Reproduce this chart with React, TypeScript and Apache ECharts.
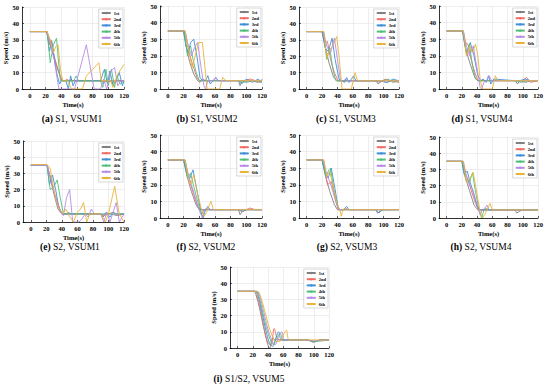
import React, { useEffect, useRef } from "react";
import * as echarts from "echarts";

const runNames = ["1st", "2nd", "3rd", "4th", "5th", "6th"];
const runColors = ["#808080", "#f26c64", "#3f8fd8", "#4fbf7a", "#b88be6", "#e8b43a"];
const xTicks = [0, 20, 40, 60, 80, 100, 120];

// (a) S1, VSUM1
const a1 = [[0,35],[22,35],[28,24],[34,14],[40,6],[42,5],[90,5],[94,4],[100,5],[106,4],[112,5],[120,5]];
const a2 = [[0,35],[21,35],[25,27],[27,30],[31,20],[37,10],[41,5],[45,5],[47,6],[50,5],[52,6],[55,5],[120,5]];
const a3 = [[0,35],[22,35],[25,23],[28,29],[32,16],[35,8],[38,3],[40,5],[46,5],[49,0],[52,8],[55,2],[58,5],[90,5],[95,12],[99,3],[102,11],[106,2],[110,5],[114,10],[118,2],[120,5]];
const a4 = [[0,35],[22,35],[26,16],[30,27],[34,31],[37,14],[39,5],[56,5],[59,8],[62,5],[90,5],[93,1],[97,12],[100,2],[104,12],[108,1],[111,8],[115,3],[120,5]];
const a5 = [[0,35],[22,35],[27,26],[31,18],[35,6],[37,0],[57,0],[72,27],[82,0],[90,0],[94,6],[98,0],[103,11],[108,13],[112,2],[116,5],[120,5]];
const a6 = [[0,35],[22,35],[26,30],[30,22],[33,26],[36,27],[39,12],[42,5],[48,5],[53,0],[67,0],[72,8],[88,16],[91,5],[103,5],[106,1],[112,9],[120,15]];

// (b) S1, VSUM2
const b1 = [[0,35],[20,35],[24,24],[28,16],[33,9],[38,5],[41,4],[44,6],[48,5],[90,5],[92,2],[95,5],[100,4],[108,5],[114,4],[120,5]];
const b2 = [[0,35],[21,35],[24,30],[27,22],[32,14],[37,7],[40,5],[90,5],[98,5],[105,6],[112,5],[118,4],[120,6]];
const b3 = [[0,35],[20,35],[23,26],[26,22],[29,28],[33,30],[37,20],[41,7],[44,5],[48,5],[51,8],[54,3],[58,5],[61,7],[64,5],[90,5],[94,3],[100,6],[108,4],[115,6],[120,4]];
const b4 = [[0,35],[21,35],[25,20],[29,26],[32,18],[36,10],[40,5],[90,5],[96,4],[104,5],[112,5],[120,4]];
const b5 = [[0,35],[22,35],[26,26],[30,20],[34,25],[38,28],[42,14],[46,2],[48,0],[51,5],[58,5],[61,7],[64,5],[120,5]];
const b6 = [[0,35],[22,35],[27,22],[31,13],[35,20],[39,28],[44,28],[48,10],[50,0],[55,0],[66,0],[70,7],[74,5],[120,5]];

// (c) S1, VSUM3
const c1 = [[0,35],[20,35],[24,26],[29,16],[35,7],[40,5],[90,5],[93,3],[97,5],[104,4],[110,5],[120,5]];
const c2 = [[0,35],[21,35],[24,28],[27,29],[31,18],[36,10],[41,5],[90,5],[95,4],[102,6],[110,5],[120,4]];
const c3 = [[0,35],[20,35],[24,25],[28,23],[33,31],[37,18],[42,6],[46,5],[49,4],[52,7],[55,4],[58,6],[61,8],[64,5],[90,5],[96,5],[104,4],[112,6],[120,5]];
const c4 = [[0,35],[22,35],[26,18],[30,25],[34,12],[38,5],[90,5],[100,5],[106,6],[112,4],[120,5]];
const c5 = [[0,35],[22,35],[26,26],[31,22],[36,31],[40,18],[44,5],[48,5],[50,6],[54,5],[120,5]];
const c6 = [[0,35],[22,35],[26,19],[30,24],[34,26],[39,32],[42,20],[46,0],[58,0],[63,10],[66,5],[120,5]];

// (d) S1, VSUM4
const d1 = [[0,35],[21,35],[25,24],[31,15],[37,7],[41,5],[90,5],[93,3],[96,5],[104,4],[110,5],[120,5]];
const d2 = [[0,35],[21,35],[24,28],[28,27],[32,18],[37,10],[41,5],[90,5],[100,5],[105,7],[110,4],[120,5]];
const d3 = [[0,35],[21,35],[24,26],[27,22],[31,28],[36,20],[41,8],[45,5],[48,6],[52,4],[55,8],[58,3],[62,6],[90,5],[96,5],[103,6],[110,5],[120,5]];
const d4 = [[0,35],[22,35],[26,21],[30,27],[34,14],[38,6],[41,5],[90,5],[98,4],[106,5],[120,5]];
const d5 = [[0,35],[22,35],[26,26],[30,20],[35,26],[40,12],[44,1],[46,0],[49,4],[53,5],[56,8],[59,5],[120,5]];
const d6 = [[0,35],[22,35],[26,20],[30,26],[34,22],[38,27],[41,20],[44,6],[47,0],[60,0],[64,8],[67,5],[120,5]];

// (e) S2, VSUM1
const e1 = [[0,35],[21,35],[25,27],[30,17],[35,8],[40,5],[90,5],[93,3],[96,5],[104,5],[110,4],[120,5]];
const e2 = [[0,35],[21,35],[24,30],[27,24],[31,17],[36,10],[40,5],[90,5],[95,4],[100,5],[106,6],[112,4],[120,5]];
const e3 = [[0,35],[21,35],[24,23],[28,29],[32,20],[36,9],[40,5],[90,5],[93,4],[97,6],[102,3],[106,6],[110,5],[120,5]];
const e4 = [[0,35],[21,35],[25,20],[30,22],[34,26],[38,15],[42,5],[46,5],[48,6],[52,5],[90,5],[96,5],[120,5]];
const e5 = [[0,35],[21,35],[26,26],[30,18],[34,13],[38,6],[42,4],[46,15],[50,20],[54,0],[62,0],[66,2],[70,5],[74,3],[78,8],[82,5],[90,5],[94,0],[98,6],[102,0],[110,12],[114,0],[120,5]];
const e6 = [[0,35.5],[21,35.5],[25,33],[29,22],[33,12],[37,8],[41,5],[45,8],[49,4],[55,0],[60,6],[64,8],[68,12],[72,0],[76,5],[90,5],[96,0],[100,5],[108,22],[114,5],[120,0]];

// (f) S2, VSUM2
const f1 = [[0,35],[20,35],[24,26],[30,16],[36,8],[40,5],[90,5],[92,2],[95,4],[100,5],[110,5],[120,5]];
const f2 = [[0,35],[21,35],[24,30],[28,22],[33,14],[38,7],[42,5],[90,5],[96,4],[104,6],[112,5],[120,5]];
const f3 = [[0,35],[20,35],[24,27],[28,24],[32,29],[37,17],[42,4],[45,0],[48,5],[51,7],[54,5],[90,5],[94,4],[100,5],[120,5]];
const f4 = [[0,35],[21,35],[25,24],[29,27],[33,19],[38,10],[43,2],[46,5],[90,5],[100,5],[120,5]];
const f5 = [[0,35],[22,35],[26,26],[30,20],[34,14],[39,6],[44,0],[47,5],[50,6],[53,5],[120,5]];
const f6 = [[0,35],[22,35],[26,24],[29,20],[33,26],[38,14],[43,5],[46,1],[50,4],[53,8],[55,10],[58,5],[120,5]];

// (g) S2, VSUM3
const g1 = [[0,35],[20,35],[24,26],[30,16],[36,8],[40,5],[90,5],[92,3],[95,4],[100,5],[120,5]];
const g2 = [[0,35],[21,35],[24,28],[27,20],[32,22],[37,12],[41,5],[90,5],[100,5],[110,5],[120,5]];
const g3 = [[0,35],[20,35],[24,27],[28,24],[32,30],[37,17],[41,6],[44,5],[48,5],[52,7],[55,5],[90,5],[94,3],[98,5],[120,5]];
const g4 = [[0,35],[21,35],[25,25],[29,29],[31,30],[35,18],[40,7],[43,5],[90,5],[100,5],[120,5]];
const g5 = [[0,35],[22,35],[26,26],[30,22],[34,16],[39,8],[42,5],[48,5],[51,6],[54,5],[120,5]];
const g6 = [[0,35],[22,35],[26,25],[30,28],[34,20],[39,9],[43,5],[45,1],[47,5],[50,6],[53,5],[120,5]];

// (h) S2, VSUM4
const h1 = [[0,35],[20,35],[24,26],[30,17],[36,8],[41,5],[90,5],[92,3],[95,4],[100,5],[120,5]];
const h2 = [[0,35],[21,35],[24,28],[28,24],[33,16],[38,9],[42,5],[90,5],[100,5],[110,5],[120,5]];
const h3 = [[0,35],[20,35],[23,27],[27,29],[31,22],[36,14],[41,6],[45,5],[90,5],[96,5],[120,5]];
const h4 = [[0,35],[21,35],[25,24],[30,22],[34,28],[38,16],[43,4],[46,0],[49,5],[52,6],[55,5],[120,5]];
const h5 = [[0,35],[22,35],[26,26],[30,20],[34,18],[39,10],[44,2],[47,5],[50,6],[53,8],[56,5],[120,5]];
const h6 = [[0,35],[22,35],[26,22],[30,24],[35,28],[39,17],[44,4],[47,0],[50,2],[54,6],[57,9],[60,5],[120,5]];

// (i) S1/S2, VSUM5
const i1 = [[0,35],[21,35],[24,33],[29,24],[34,13],[39,3],[42,0],[46,6],[50,5],[90,5],[95,4.5],[100,3.5],[105,4.5],[110,5],[120,5]];
const i2 = [[0,35],[22,35],[25,33],[30,24],[35,12],[40,3],[44,2],[48,12],[52,6],[56,5],[90,5],[100,4],[110,5],[120,5]];
const i3 = [[0,35],[23,35],[27,32],[32,22],[37,11],[42,3],[46,1],[50,6],[54,10],[58,5],[90,5],[100,4],[110,5],[120,5]];
const i4 = [[0,35],[24,35],[28,32],[33,22],[38,12],[43,5],[47,2],[51,6],[56,9],[60,5],[90,5],[100,4],[120,5]];
const i5 = [[0,35],[25,35],[29,32],[34,23],[39,13],[44,6],[49,2],[54,7],[58,10],[62,5],[90,5],[100,4.5],[120,5]];
const i6 = [[0,35],[26,35],[30,32],[35,24],[40,15],[45,8],[50,4],[55,4],[60,8],[64,11],[68,5],[90,5],[120,5]];

const panels = [
  { letter: "a", caption: " S1, VSUM1", runs: [a1, a2, a3, a4, a5, a6], left: 22, top: 7, width: 102, height: 82, cx: 72, cy: 119 },
  { letter: "b", caption: " S1, VSUM2", runs: [b1, b2, b3, b4, b5, b6], left: 160, top: 6, width: 102, height: 83, cx: 207, cy: 119 },
  { letter: "c", caption: " S1, VSUM3", runs: [c1, c2, c3, c4, c5, c6], left: 299, top: 7, width: 100, height: 82, cx: 346, cy: 119 },
  { letter: "d", caption: " S1, VSUM4", runs: [d1, d2, d3, d4, d5, d6], left: 439, top: 6, width: 99, height: 83, cx: 482, cy: 119 },
  { letter: "e", caption: " S2, VSUM1", runs: [e1, e2, e3, e4, e5, e6], left: 23, top: 141, width: 101, height: 81, cx: 70, cy: 247 },
  { letter: "f", caption: " S2, VSUM2", runs: [f1, f2, f3, f4, f5, f6], left: 160, top: 135, width: 102, height: 83, cx: 206, cy: 247 },
  { letter: "g", caption: " S2, VSUM3", runs: [g1, g2, g3, g4, g5, g6], left: 299, top: 135, width: 100, height: 83, cx: 347, cy: 247 },
  { letter: "h", caption: " S2, VSUM4", runs: [h1, h2, h3, h4, h5, h6], left: 439, top: 137, width: 99, height: 81, cx: 481, cy: 247 },
  { letter: "i", caption: " S1/S2, VSUM5", runs: [i1, i2, i3, i4, i5, i6], left: 230, top: 267, width: 99, height: 81, cx: 249, cy: 379 },
];

const FONT = "'Liberation Serif', 'DejaVu Serif', serif";
const W = 550;

export default function App() {
  const ref = useRef<HTMLDivElement>(null);
  useEffect(() => {
    document.body.style.margin = "0";
    if (!ref.current) return;
    const chart = echarts.init(ref.current, null, { renderer: "svg" });
    const grid: any[] = [];
    const xAxis: any[] = [];
    const yAxis: any[] = [];
    const series: any[] = [];
    const legend: any[] = [];
    const graphic: any[] = [];
    panels.forEach((p, pi) => {
      grid.push({ left: p.left, top: p.top, width: p.width, height: p.height, containLabel: false });
      xAxis.push({
        type: "value", gridIndex: pi, min: -10, max: 120,
        name: "Time(s)", nameLocation: "middle", nameGap: 12,
        nameTextStyle: { fontFamily: FONT, fontWeight: "bold", fontSize: 6.5, color: "#000" },
        axisLine: { onZero: false, lineStyle: { color: "#000", width: 0.8 } },
        axisTick: { customValues: xTicks, inside: true, length: 2, lineStyle: { color: "#000", width: 0.6 } },
        axisLabel: { customValues: xTicks, fontFamily: FONT, fontWeight: "bold", fontSize: 6.5, color: "#000", margin: 3 },
        splitLine: { show: true, lineStyle: { color: "#e2e2e2", width: 0.6 } },
      });
      yAxis.push({
        type: "value", gridIndex: pi, min: 0, max: 50, interval: 10,
        name: "Speed (m/s)", nameLocation: "middle", nameGap: 13, nameRotate: 90,
        nameTextStyle: { fontFamily: FONT, fontWeight: "bold", fontSize: 6.5, color: "#000" },
        axisLine: { show: true, onZero: false, lineStyle: { color: "#000", width: 0.8 } },
        axisTick: { show: true, inside: true, length: 2, lineStyle: { color: "#000", width: 0.6 } },
        axisLabel: { fontFamily: FONT, fontWeight: "bold", fontSize: 6.5, color: "#000", margin: 3 },
        splitLine: { show: true, lineStyle: { color: "#e2e2e2", width: 0.6 } },
      });
      p.runs.forEach((run, k) => {
        series.push({
          type: "line", name: runNames[k], xAxisIndex: pi, yAxisIndex: pi,
          data: run, symbol: "none", smooth: pi === 8 ? 0.35 : false,
          lineStyle: { color: runColors[k], width: 0.9 }, itemStyle: { color: runColors[k] },
          clip: true,
        });
      });
      legend.push({
        data: runNames, orient: "vertical", right: W - (p.left + p.width) + 1, top: p.top + 2,
        itemWidth: 9, itemHeight: 3, itemGap: 1.2, padding: [1.5, 2, 1.5, 2],
        borderColor: "#b0b0b0", borderWidth: 0.5, backgroundColor: "#fff",
        textStyle: { fontFamily: FONT, fontWeight: "bold", fontSize: 4.5, color: "#000", padding: [0, 0, 0, -2] },
        selectedMode: false,
      });
      graphic.push({
        type: "text", x: p.cx, y: p.cy,
        style: {
          text: `{b|(${p.letter})}{n|${p.caption}}`, align: "center", verticalAlign: "middle",
          fontFamily: FONT, fontSize: 9.5, fontWeight: "normal", fill: "#000",
          rich: {
            b: { fontFamily: FONT, fontSize: 9.5, fontWeight: "bold", fill: "#000" },
            n: { fontFamily: FONT, fontSize: 9.5, fontWeight: "normal", fill: "#000" },
          },
        },
      });
    });
    chart.setOption({
      animation: false,
      backgroundColor: "#fff",
      grid, xAxis, yAxis, series, legend, graphic,
    });
    return () => chart.dispose();
  }, []);
  return <div ref={ref} style={{ width: 550, height: 388 }} />;
}
